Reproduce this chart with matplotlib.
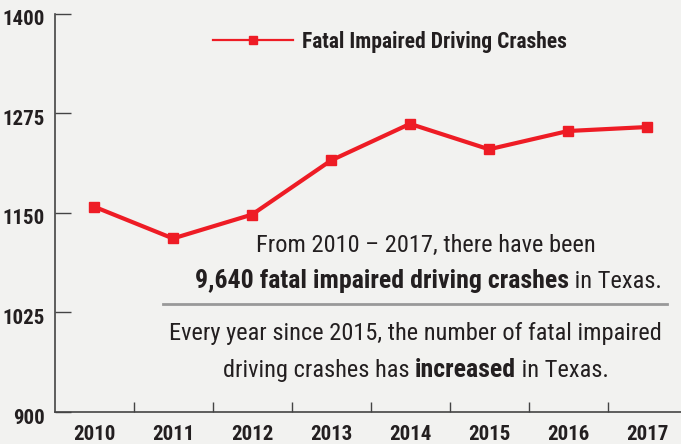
import matplotlib
matplotlib.use("Agg")
import matplotlib.pyplot as plt
import matplotlib.transforms as mtransforms
from matplotlib.lines import Line2D
from matplotlib import font_manager

# Dane
lata = ["2010", "2011", "2012", "2013", "2014", "2015", "2016", "2017"]
wypadki = [1158, 1118, 1148, 1216, 1262, 1230, 1253, 1258]
y_ticks = [900, 1025, 1150, 1275, 1400]
seria = "Fatal Impaired Driving Crashes"

# czcionka waska, jesli jest
kandydaci = ["Roboto Condensed", "PT Sans Narrow", "Fira Sans Condensed", "Open Sans Condensed",
             "Barlow Semi Condensed", "Archivo Narrow", "Sofia Sans Condensed", "Saira Condensed"]
names = {f.name for f in font_manager.fontManager.ttflist}
FONT = next((k for k in kandydaci if k in names), "DejaVu Sans")
plt.rcParams["font.family"] = [FONT, "DejaVu Sans"]

BG = "#f2f2f0"
RED = "#ee1c25"
DARK = "#231f20"

W, H = 681, 444
fig = plt.figure(figsize=(W / 100, H / 100), dpi=100, facecolor=BG)
ax = fig.add_axes([54.5 / W, 32 / H, 632 / W, 398 / H], facecolor=BG)

x = list(range(len(lata)))
ax.plot(x, wypadki, color=RED, lw=3, marker="s", ms=6.5)

ax.set_xlim(-0.5, len(lata) - 0.5)
ax.set_ylim(900, 1400)
ax.set_yticks(y_ticks)
ax.set_yticklabels([str(v) for v in y_ticks], fontsize=15, fontweight="bold", color=DARK)
ax.tick_params(axis="y", direction="in", length=11.5, width=1, color="#444444", pad=7)
przes = mtransforms.ScaledTranslation(0, -4 / 100, fig.dpi_scale_trans)
for lab in ax.get_yticklabels():
    lab.set_transform(lab.get_transform() + przes)

# podzialki miedzy kategoriami, etykiety na srodku
ax.set_xticks([i + 0.5 for i in x[:-1]])
ax.set_xticklabels([])
ax.tick_params(axis="x", which="major", direction="in", length=7, width=1, color="#444444")
ax.set_xticks(x, minor=True)
ax.set_xticklabels(lata, minor=True, fontsize=15, fontweight="bold", color=DARK)
ax.tick_params(axis="x", which="minor", length=0, pad=9)

for s in ["top", "right"]:
    ax.spines[s].set_visible(False)
for s in ["left", "bottom"]:
    ax.spines[s].set_color("#444444")
    ax.spines[s].set_linewidth(1.2)

uchwyt = Line2D([], [], color=RED, lw=1.6, marker="s", ms=5.5)
leg = ax.legend(handles=[uchwyt], labels=[seria], loc="upper left",
                bbox_to_anchor=(158.5 / 632, 1 - 17 / 398), frameon=False,
                borderpad=0, borderaxespad=0,
                prop={"size": 15.5, "weight": "bold"}, handlelength=3.7, handletextpad=0.42)
for t in leg.get_texts():
    t.set_color(DARK)

# Tekst
def px(xp, yp):
    return xp / W, 1 - yp / H

fs = 17.6
fsb = 18.6

def linia(czesci, xc, yb):
    # czesci: lista (tekst, pogrubiony); wysrodkowanie calej linii na xc
    pierwszy = None
    prev = None
    wszystkie = []
    for tekst, bold in czesci:
        if prev is None:
            prev = fig.text(*px(xc, yb), tekst, fontsize=fsb if bold else fs,
                            fontweight="bold" if bold else "normal",
                            ha="left", va="baseline", color=DARK)
            pierwszy = prev
        else:
            prev = ax.annotate(tekst, xy=(1, 0), xycoords=prev, ha="left", va="bottom",
                               fontsize=fsb if bold else fs,
                               fontweight="bold" if bold else "normal", color=DARK)
        wszystkie.append(prev)
    fig.canvas.draw()
    r = fig.canvas.get_renderer()
    x0 = wszystkie[0].get_window_extent(r).x0
    x1 = wszystkie[-1].get_window_extent(r).x1
    szer = x1 - x0
    pierwszy.set_x((xc - szer / 2) / W)

linia([("From 2010 \u2013 2017, there have been", False)], 426, 252)
linia([("9,640 fatal impaired driving crashes", True), (" in Texas.", False)], 428, 288)

fig.add_artist(Line2D([163 / W, 667 / W], [1 - 304 / H] * 2, color="#999999", lw=2))

linia([("Every year since 2015, the number of fatal impaired", False)], 415.5, 340)
linia([("driving crashes has ", False), ("increased", True), (" in Texas.", False)], 416, 377)

fig.savefig("out.png", dpi=100, facecolor=BG)
